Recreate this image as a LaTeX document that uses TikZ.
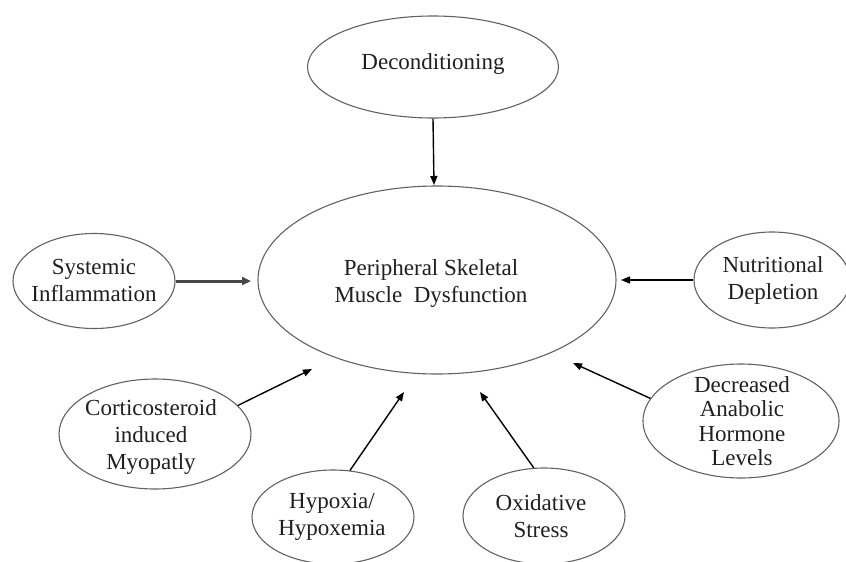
\documentclass[tikz,border=0pt]{standalone}
\usepackage{fontspec}
\setmainfont{Liberation Serif}
\usetikzlibrary{shapes.geometric,arrows.meta}
\begin{document}
\begin{tikzpicture}[x=1pt,y=-1pt,
  ell/.style={draw=black!62, line width=1.1pt, ellipse, inner sep=0pt},
  txt/.style={align=center, font=\fontsize{23}{27}\selectfont, text=black!88, inner sep=0pt},
  arr/.style={draw=black, line width=1.4pt, -{Triangle[length=9pt,width=7pt]}},
  thickarr/.style={draw=black!72, line width=3pt, -{Triangle[length=9pt,width=8pt]}},
]
\useasboundingbox (0,0) rectangle (846,562);
% ellipses
\node[ell, minimum width=251pt, minimum height=102pt] (dec) at (433,67) {};
\node[ell, minimum width=358pt, minimum height=188pt] (main) at (437,280) {};
\node[ell, minimum width=162pt, minimum height=95pt] (sys) at (94,281) {};
\node[ell, minimum width=156pt, minimum height=96pt] (nut) at (772,280) {};
\node[ell, minimum width=192pt, minimum height=110pt] (cort) at (155,434) {};
\node[ell, minimum width=162pt, minimum height=94pt] (hyp) at (333,517) {};
\node[ell, minimum width=162pt, minimum height=96pt] (oxi) at (544,516) {};
\node[ell, minimum width=196pt, minimum height=114pt] (decr) at (741,421) {};
% texts
\node[txt] (decT) at (433,64) {Deconditioning};
\node[txt] (mainT) at (431,283) {Peripheral Skeletal\\Muscle\ \ Dysfunction};
\node[txt] (sysT) at (94,280) {Systemic\\Inflammation};
\node[txt] (nutT) at (773,280) {Nutritional\\Depletion};
\node[txt] (cortT) at (151,437) {Corticosteroid\\induced\\Myopatly};
\node[txt] (hypT) at (332,517) {Hypoxia/\\Hypoxemia};
\node[txt] (oxiT) at (541,516) {Oxidative\\Stress};
\node[txt, font=\fontsize{23}{24.5}\selectfont] (decrT) at (742,421) {Decreased\\Anabolic\\Hormone\\Levels};
% arrow tips
\coordinate (t0) at (434,185);
\coordinate (t1) at (251,281);
\coordinate (t2) at (621,280);
\coordinate (t3) at (312,369);
\coordinate (t4) at (404,392);
\coordinate (t5) at (480,392);
\coordinate (t6) at (573,363);
% connectors
\draw[arr] (dec.south) -- (t0);
\draw[thickarr] (sys.east) -- (t1);
\draw[arr] (nut.west) -- (t2);
\draw[arr] (cort.19) -- (t3);
\draw[arr] (hyp.70) -- (t4);
\draw[arr] (oxi.102) -- (t5);
\draw[arr] (decr.166) -- (t6);
\end{tikzpicture}
\end{document}
